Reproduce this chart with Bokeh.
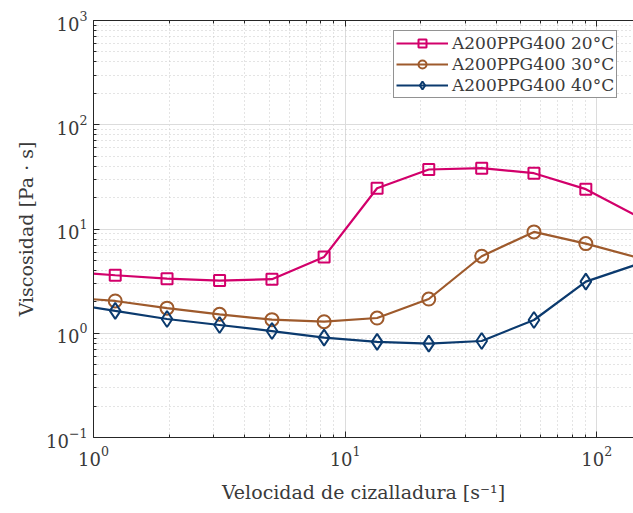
from bokeh.plotting import figure
from bokeh.models import (ColumnDataSource, FixedTicker, LogAxis, Legend, LegendItem,
                          LogTickFormatter)
from bokeh.embed import file_html
from bokeh.resources import INLINE

# ---- data ----
shear_rate = [0.757, 1.22, 1.96, 3.17, 5.12, 8.25, 13.4, 21.5, 34.9, 56.3, 90.5, 146.0]
marker_idx = list(range(1, 11))  # markers drawn on these points

visc_20 = [3.90, 3.60, 3.34, 3.20, 3.30, 5.40, 24.6, 37.2, 38.3, 34.3, 24.1, 13.1]
visc_30 = [2.23, 2.04, 1.74, 1.52, 1.35, 1.29, 1.40, 2.13, 5.48, 9.38, 7.24, 5.30]
visc_40 = [1.97, 1.64, 1.37, 1.20, 1.05, 0.908, 0.826, 0.795, 0.843, 1.34, 3.13, 4.61]

labels = ["A200PPG400 20°C", "A200PPG400 30°C", "A200PPG400 40°C"]
colors = ["#d2006b", "#9e5a2c", "#0b3a6e"]
markers = ["square", "circle", "diamond"]
msizes = [11, 13, 16]

major_ticks_x = [1, 10, 100]
major_ticks_y = [0.1, 1, 10, 100, 1000]
minor_x = [m * d for d in (1, 10, 100) for m in range(2, 10)]
minor_y = [m * d for d in (0.1, 1, 10, 100) for m in range(2, 10)]

FONT = "DejaVu Serif"
TXT = "#3a3a3a"

p = figure(x_axis_type="log", y_axis_type="log",
           x_range=(1, 140), y_range=(0.1, 1000),
           frame_width=540, frame_height=417,
           min_border_left=93, min_border_right=0, min_border_top=20, min_border_bottom=76,
           output_backend="svg", toolbar_location=None,
           outline_line_color=None, background_fill_color="white")

# axes
xa = p.xaxis[0]
ya = p.yaxis[0]
xa.ticker = FixedTicker(ticks=major_ticks_x, minor_ticks=minor_x)
ya.ticker = FixedTicker(ticks=major_ticks_y, minor_ticks=minor_y)
for ax in (xa, ya):
    ax.formatter = LogTickFormatter()
    ax.major_tick_in = 6
    ax.major_tick_out = 0
    ax.minor_tick_in = 3
    ax.minor_tick_out = 0
    ax.axis_line_color = "#262626"
    ax.major_tick_line_color = "#262626"
    ax.minor_tick_line_color = "#262626"
    ax.major_label_text_font = FONT
    ax.major_label_text_font_size = "18px"
    ax.major_label_text_color = TXT
    ax.axis_label_text_font = FONT
    ax.axis_label_text_font_style = "normal"
    ax.axis_label_text_font_size = "19px"
    ax.axis_label_text_color = TXT
xa.axis_label = "Velocidad de cizalladura [s⁻¹]"
ya.axis_label = "Viscosidad [Pa · s]"
xa.major_label_standoff = 8
ya.major_label_standoff = 6
xa.axis_label_standoff = 12
ya.axis_label_standoff = 6

top = LogAxis(ticker=FixedTicker(ticks=major_ticks_x, minor_ticks=minor_x),
              major_label_text_font_size="8px", major_label_text_alpha=0,
              major_label_standoff=0,
              major_tick_in=6, major_tick_out=0, minor_tick_in=3, minor_tick_out=0,
              axis_line_color="#262626", major_tick_line_color="#262626",
              minor_tick_line_color="#262626")
p.add_layout(top, "above")

# grids
for g in (p.xgrid[0], p.ygrid[0]):
    g.grid_line_color = "#dcdcdc"
    g.grid_line_width = 1
    g.minor_grid_line_color = "#c8c8c8"
    g.minor_grid_line_dash = "1 3"
    g.minor_grid_line_width = 1

items = []
for vals, lab, col, mk, ms in zip((visc_20, visc_30, visc_40), labels, colors, markers, msizes):
    src = ColumnDataSource(dict(x=shear_rate, y=vals))
    msrc = ColumnDataSource(dict(x=[shear_rate[i] for i in marker_idx],
                                 y=[vals[i] for i in marker_idx]))
    r1 = p.line("x", "y", source=src, line_color=col, line_width=2.2)
    r2 = p.scatter("x", "y", source=msrc, marker=mk, size=ms, line_color=col,
                   line_width=2, fill_alpha=0)
    items.append(LegendItem(label=lab, renderers=[r1, r2]))

legend = Legend(items=items, location=(300, 339),
                label_text_font=FONT, label_text_font_size="17px", label_text_color=TXT,
                border_line_color="#262626", border_line_width=1,
                background_fill_color="white", background_fill_alpha=1,
                glyph_width=52, glyph_height=20, label_height=20, spacing=1,
                padding=2, margin=0, label_standoff=4)
p.add_layout(legend)

open("out.html", "w").write(file_html(p, INLINE))
